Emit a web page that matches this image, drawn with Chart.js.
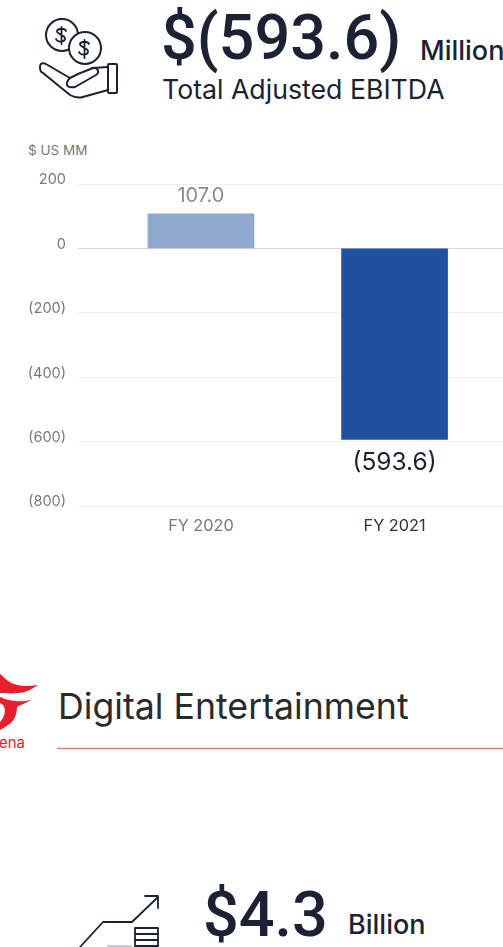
<!DOCTYPE html>
<html>
<head>
<meta charset="utf-8">
<script src="https://cdn.jsdelivr.net/npm/chart.js@4"></script>
<style>
  html, body { margin: 0; padding: 0; background: #fff; overflow: hidden; }
  body { width: 503px; height: 947px; position: relative; font-family: "Inter", sans-serif; color: #1a2233; }
  .t { position: absolute; white-space: nowrap; line-height: 1; }
  .big { font-family: "Roboto", sans-serif; font-size: 63px; font-weight: 500; }
  canvas { position: absolute; left: 0; top: 170px; }
  svg { position: absolute; left: 0; top: 0; }
</style>
</head>
<body>
<svg width="503" height="947" fill="none" stroke="#1a2233" stroke-width="2" stroke-linejoin="round" stroke-linecap="round">
  <!-- coins and open hand -->
  <circle cx="62" cy="35" r="16"/>
  <circle cx="85" cy="48" r="16" fill="#fff"/>
  <path d="M66 31c-1-3-8-3-9 0s9 4 8 8-8 3-9 0M61.500 27v17M89 44c-1-3-8-3-9 0s9 4 8 8-8 3-9 0M84.500 40v18" stroke-width="1.800"/>
  <path d="M108 67L93 68 78 74 70 78 45 63.500Q40 62 40 67 40 72 43 73L70 95Q75 98 81 97.500L108 90"/>
  <path d="M70 78Q66 82 67 85 68 88 75 87L96 75Q100 72 97 69 95 67 92 68"/>
  <rect x="108" y="64" width="9" height="29" rx="1"/>
  <!-- red flame mark -->
  <g fill="#e81f2a" stroke="none">
    <path d="M0 674C5 678 8 682 14 684 22 687 30 686 38 685 32 689 26 693 18 693 10 694 5 693 0 693Z"/>
    <path d="M0 697C10 702 22 702 32 700 26 703 20 705 17 707 17 714 14 722 8 725 5 727 2 729 0 730L0 722C4 718 7 710 3 705L0 703Z"/>
  </g>
  <!-- stepped arrow and stacked coins -->
  <path d="M80 947l23-25h29l26-25M145 896h13v12M135 928h23v19h-23zM135 934h23M135 940h23M135 946h23" stroke-width="1.800"/>
  <path d="M108 946h23" stroke="#c9cbcf"/>
  <!-- section rule -->
  <path d="M57 748.500h446" stroke="#ea7a7a" stroke-width="1.500" stroke-linecap="butt"/>
</svg>

<div class="t big" style="left:161px;top:6px">$(593.6)</div>
<div class="t" style="left:420px;top:37px;font-size:27px;font-weight:500">Million</div>
<div class="t" style="left:162px;top:76px;font-size:26.700px">Total Adjusted EBITDA</div>
<div class="t" style="left:28px;top:144px;font-size:13.500px;color:#77797d">$ US MM</div>
<div class="t" style="left:58px;top:689px;font-size:35.700px;color:#2a2a2c">Digital Entertainment</div>
<div class="t" style="left:-1px;top:735px;font-size:15px;color:#e81f2a">ena</div>
<div class="t big" style="left:203px;top:883px">$4.3</div>
<div class="t" style="left:348px;top:911px;font-size:27px;font-weight:500">Billion</div>

<canvas id="ebitda-chart" width="503" height="380"></canvas>

<script>
const categories = ["FY 2020", "FY 2021"]
const positions = [0, 1]
const ebitda = [107.0, -593.6]
const barColors = ["#8fa9cf", "#20519e"]
const labelColors = ["#8b8d91", "#1a2233"]
const labelSizes = [20, 24.5]
const tickColors = ["#77797d", "#2e3340"]

// (593.6) style for negatives, same as the statements
function money(v, digits) {
    const s = Math.abs(v).toFixed(digits)
    return v < 0 ? "(" + s + ")" : s
}

const valueLabels = {
    id: "valueLabels",
    afterDatasetsDraw(chart) {
        const ctx = chart.ctx
        ctx.save()
        ctx.textAlign = "center"
        chart.getDatasetMeta(0).data.forEach((bar, i) => {
            ctx.font = labelSizes[i] + "px Inter"
            ctx.fillStyle = labelColors[i]
            ctx.textBaseline = ebitda[i] < 0 ? "top" : "bottom"
            ctx.fillText(money(ebitda[i], 1), bar.x, bar.y + (ebitda[i] < 0 ? 11 : -8))
        })
        ctx.restore()
    }
}

new Chart(document.getElementById("ebitda-chart"), {
    type: "bar",
    data: {
        datasets: [{
            data: positions.map((p, i) => ({ x: p, y: ebitda[i] })),
            backgroundColor: barColors,
            barThickness: 106
        }]
    },
    options: {
        responsive: false,
        animation: false,
        layout: { padding: { top: 14 } },
        plugins: { legend: { display: false }, tooltip: { enabled: false } },
        scales: {
            // linear x so the two columns can sit off-centre in the plot
            x: {
                type: "linear",
                offset: false,
                min: -0.635,
                max: 1.56,
                afterFit(scale) {
                    scale.height = 44
                    scale.paddingLeft = 0
                    scale.paddingRight = 0
                },
                grid: { display: false },
                border: { display: false },
                ticks: {
                    stepSize: 1,
                    padding: 2,
                    maxRotation: 0,
                    font: { size: 16.3, family: "Inter" },
                    color: (c) => tickColors[c.tick.value] || "#77797d",
                    callback: (v) => categories[v] || ""
                }
            },
            y: {
                min: -800,
                max: 200,
                afterFit(scale) {
                    scale.width = 78
                    scale.paddingTop = 0
                    scale.paddingBottom = 0
                },
                border: { display: false },
                grid: {
                    drawTicks: false,
                    color: (c) => c.tick.value === 0 ? "#d6d6da" : "#efeff1"
                },
                ticks: {
                    stepSize: 200,
                    padding: 12,
                    labelOffset: -4,
                    font: { size: 14.5, family: "Inter" },
                    color: "#77797d",
                    callback: (v) => money(v, 0)
                }
            }
        }
    },
    plugins: [valueLabels]
})
</script>
</body>
</html>
